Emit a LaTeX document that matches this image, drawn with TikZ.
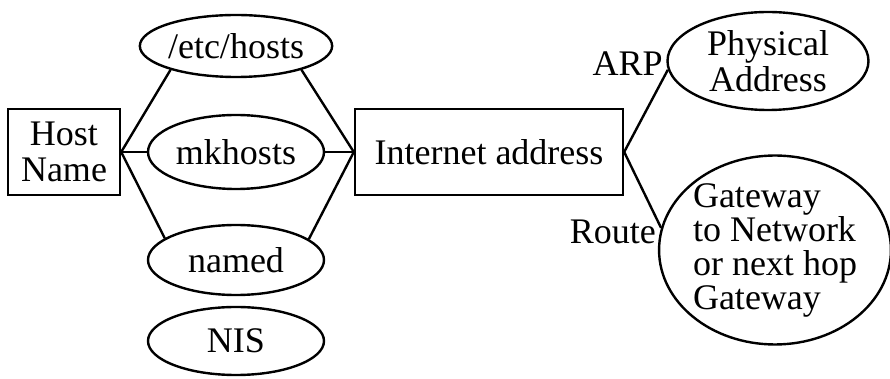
\documentclass[tikz,border=0pt]{standalone}
\usepackage{fontspec}
\setmainfont{Liberation Serif}
\usetikzlibrary{shapes,positioning}

\begin{document}
\begin{tikzpicture}[node distance=53pt, auto, line width=1.2pt,
    font=\fontsize{18}{18}\selectfont,
    lookup/.style={ellipse, draw, minimum width=88pt, minimum height=35pt, inner sep=0pt},
    addr/.style={rectangle, draw, minimum height=43pt}]
        \useasboundingbox (0,0) rectangle (445pt,-189.5pt);
        % Define nodes
        \node (mkhosts) [lookup, minimum height=37pt] at (118pt,-76pt) {mkhosts};
        \node (etc_hosts) [lookup, minimum height=31pt, above of=mkhosts] {/etc/hosts};
        \node (named) [lookup, below of=mkhosts, node distance=54pt] {named};
        \node (nis) [lookup, minimum height=34pt, below of=named, node distance=40.5pt] {NIS};
        \node (host_name) [addr, align=center, minimum width=56pt, left of=mkhosts, node distance=86pt] {Host\\Name};
        \node (internet_address) [addr, minimum width=134pt, right of=mkhosts, node distance=126.5pt] {Internet address};
        \node (physical_address) [ellipse, draw, align=center, minimum width=100.5pt, minimum height=49pt, inner sep=0pt] at (384pt,-30.5pt) {Physical\\Address};
        \node (gateway) [ellipse, draw, align=left, minimum width=114.5pt, minimum height=93pt, inner sep=0pt, font=\fontsize{18}{17}\selectfont] at (387.5pt,-125pt) {Gateway\\to Network\\or next hop\\Gateway};

        % Draw lines
        \draw (host_name.east) -- (etc_hosts.200);
        \draw (host_name.east) -- (mkhosts.west);
        \draw (host_name.east) -- (named.163);
        \draw (etc_hosts.340) -- (internet_address.west);
        \draw (mkhosts.east) -- (internet_address.west);
        \draw (named.16) -- (internet_address.west);
        \draw (internet_address.east) -- (physical_address.185) node[left, yshift=3pt, inner sep=2pt] {ARP};
        \draw (internet_address.east) -- (gateway.169) node[left, yshift=-2pt, inner sep=2pt] {Route};
    \end{tikzpicture}
\end{document}
